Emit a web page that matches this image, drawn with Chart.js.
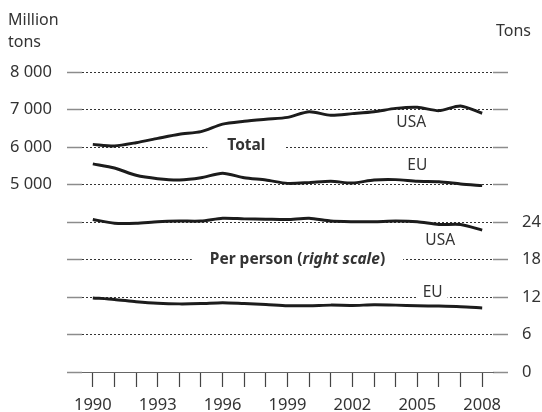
<!DOCTYPE html>
<html>
<head>
<meta charset="utf-8">
<script src="https://cdn.jsdelivr.net/npm/chart.js@4.4.1/dist/chart.umd.min.js"></script>
<style>
    html, body { margin:0; padding:0; background:#fff; }
    #wrap { width:542px; height:412px; position:relative; }
</style>
</head>
<body>
<div id="wrap"><canvas id="co2Chart"></canvas></div>
<script>
// CO2 emissions, USA vs EU: totals (left scale) and per person (right scale)
const years = [1990,1991,1992,1993,1994,1995,1996,1997,1998,1999,2000,2001,2002,2003,2004,2005,2006,2007,2008];
const usaTotal = [6070,6030,6115,6230,6340,6410,6610,6685,6740,6790,6940,6845,6890,6940,7030,7060,6970,7095,6900];
const euTotal = [5550,5440,5245,5155,5120,5180,5300,5180,5120,5030,5050,5085,5040,5120,5130,5085,5075,5015,4970];
const usaPerPerson = [24.4,23.8,23.8,24.05,24.15,24.15,24.6,24.5,24.45,24.4,24.6,24.15,24.05,24.05,24.15,24.05,23.6,23.6,22.7];
const euPerPerson = [11.85,11.6,11.25,11.0,10.9,10.95,11.1,10.95,10.8,10.6,10.6,10.7,10.65,10.75,10.7,10.6,10.55,10.45,10.25];
const leftLabelled = [5000,6000,7000,8000];
const rightLabelled = [0,6,12,18,24];
const tickYears = [1990,1993,1996,1999,2002,2005,2008];

const FONT = "'Noto Sans', sans-serif";
const TEXT = '#333';

// in-chart labels, anchored to data coordinates
const notes = [
    { parts:[['Total','bold']], year:1997.1, value:6000, axis:'y', dy:-1, base:'middle', gap:20 },
    { parts:[['Per person (','bold'],['right scale','italic bold'],[')','bold']], year:1999.46, value:18, axis:'y1', dy:0, base:'middle', gap:18 },
    { parts:[['USA','']], year:2004.72, value:6640, axis:'y', dy:0, base:'middle' },
    { parts:[['EU','']], year:2005.0, value:5493, axis:'y', dy:0, base:'middle' },
    { parts:[['USA','']], year:2006.06, value:21.1, axis:'y1', dy:0, base:'middle' },
    { parts:[['EU','']], year:2005.71, value:12, axis:'y1', dy:0, base:'alphabetic', gap:5 }
];

const inlineLabels = {
    id: 'inlineLabels',
    beforeDatasetsDraw(chart) {
        const { ctx, scales } = chart;
        notes.forEach(n => {
            const cx = scales.x.getPixelForValue(n.year - years[0]);
            const cy = scales[n.axis].getPixelForValue(n.value) + n.dy;
            ctx.save();
            const widths = n.parts.map(([t, s]) => { ctx.font = `${s} 15.5px ${FONT}`; return ctx.measureText(t).width; });
            const total = widths.reduce((a, b) => a + b, 0);
            let x = cx - total / 2;
            if (n.gap) {
                const gy = scales[n.axis].getPixelForValue(n.value);
                ctx.fillStyle = '#fff';
                ctx.fillRect(x - n.gap, gy - 3, total + 2 * n.gap, 6);
            }
            ctx.fillStyle = TEXT;
            ctx.textBaseline = n.base;
            ctx.textAlign = 'left';
            n.parts.forEach(([t, s], i) => {
                ctx.font = `${s} 15.5px ${FONT}`;
                ctx.fillText(t, x, cy);
                x += widths[i];
            });
            ctx.restore();
        });
    },
    afterDraw(chart) {
        const { ctx } = chart;
        ctx.save();
        ctx.fillStyle = TEXT;
        ctx.font = `16px ${FONT}`;
        ctx.textBaseline = 'middle';
        ctx.textAlign = 'left';
        ctx.fillText('Million', 8, 20);
        ctx.fillText('tons', 8, 42);
        ctx.fillText('Tons', 496, 31);
        ctx.restore();
    }
};

const lineStyle = { borderColor:'#1c1c1c', borderWidth:3, pointRadius:0, tension:0.25, fill:false };

new Chart(document.getElementById('co2Chart'), {
    type: 'line',
    data: {
        labels: years,
        datasets: [
            { label:'USA total', data:usaTotal, yAxisID:'y', ...lineStyle },
            { label:'EU total', data:euTotal, yAxisID:'y', ...lineStyle },
            { label:'USA per person', data:usaPerPerson, yAxisID:'y1', ...lineStyle },
            { label:'EU per person', data:euPerPerson, yAxisID:'y1', ...lineStyle }
        ]
    },
    options: {
        responsive: true, maintainAspectRatio: false, animation: false,
        layout: { padding: { top:72, left:0, right:0, bottom:0 } },
        plugins: { legend: { display:false }, tooltip: { enabled:false } },
        scales: {
            x: {
                type: 'category', offset: true,
                grid: { offset:false, drawOnChartArea:false, drawTicks:true, tickLength:15, tickColor:'#444', tickWidth:1.2 },
                border: { display:true, color:'#666', width:1 },
                ticks: {
                    autoSkip:false, maxRotation:0, padding:8, color:TEXT, font:{ family:FONT, size:16.5 },
                    callback: (v, i) => tickYears.includes(years[i]) ? String(years[i]) : ''
                },
                afterFit: s => { s.height = 40; }
            },
            y: {
                position:'left', min:0, max:8000,
                grid: { color:'#333', lineWidth:1, drawTicks:true, tickLength:15, tickColor:'#8c8c8c', tickWidth:1.5 },
                border: { display:false, dash:[2,2] },
                ticks: {
                    stepSize:1000, padding:15, color:TEXT, font:{ family:FONT, size:16.5 },
                    callback: v => leftLabelled.includes(v) ? String(v).replace(/\B(?=(\d{3})+(?!\d))/g, ' ') : ''
                },
                afterFit: s => { s.width = 82; }
            },
            y1: {
                position:'right', min:0, max:48,
                grid: { drawOnChartArea:false, drawTicks:true, tickLength:15, tickColor:'#8c8c8c', tickWidth:1.5 },
                border: { display:false },
                ticks: {
                    stepSize:6, padding:14, color:TEXT, font:{ family:FONT, size:16.5 },
                    callback: v => rightLabelled.includes(v) ? String(v) : ''
                },
                afterFit: s => { s.width = 49; }
            }
        }
    },
    plugins: [inlineLabels]
});
</script>
</body>
</html>
